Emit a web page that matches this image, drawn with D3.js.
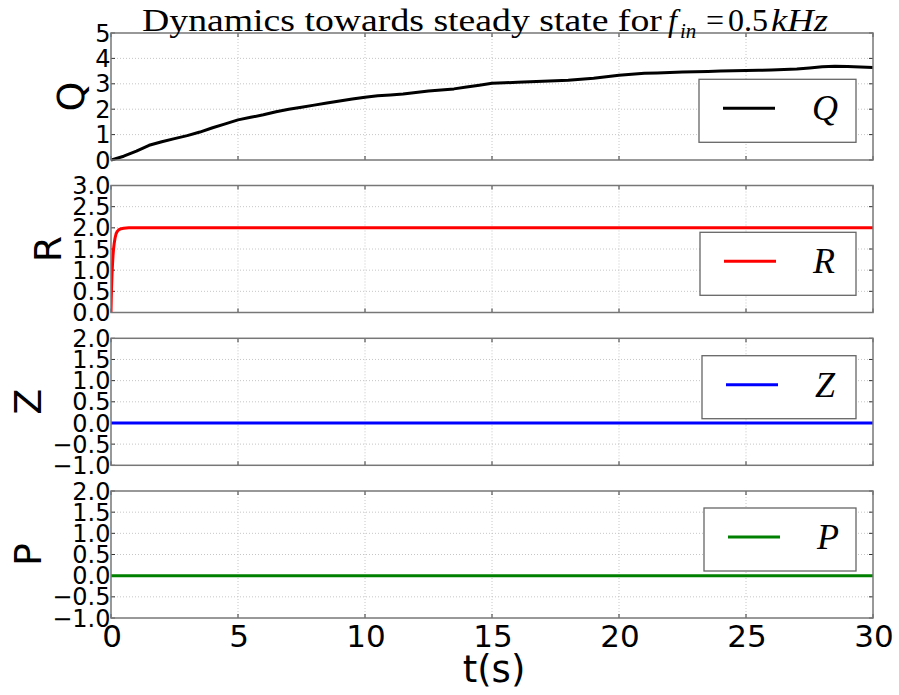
<!DOCTYPE html>
<html>
<head>
<meta charset="utf-8">
<script src="https://cdn.jsdelivr.net/npm/d3@7"></script>
<style>
  html, body { margin: 0; padding: 0; background: #fff; }
  svg { display: block; }
</style>
</head>
<body>
<svg id="chart" width="899" height="695"></svg>
<script>
// ---------------- data ----------------
const xTicks = [0, 5, 10, 15, 20, 25, 30];
const xTickLabels = ["0", "5", "10", "15", "20", "25", "30"];

const tQ = [0, 0.5, 1, 1.5, 2, 2.5, 3, 3.5, 4, 4.5, 5, 5.5, 6, 6.5, 7, 7.5, 8, 8.5, 9, 9.5,
  10, 10.5, 11, 11.5, 12, 12.5, 13, 13.5, 14, 14.5, 15, 15.5, 16, 16.5, 17, 17.5, 18, 18.5, 19, 19.5,
  20, 20.5, 21, 21.5, 22, 22.5, 23, 23.5, 24, 24.5, 25, 25.5, 26, 26.5, 27, 27.5, 28, 28.5, 29, 29.5, 30];
const qValues = [0, 0.15, 0.35, 0.58, 0.72, 0.84, 0.96, 1.1, 1.27, 1.42, 1.58, 1.68, 1.78, 1.9, 2.0, 2.08, 2.16, 2.24, 2.32, 2.4,
  2.47, 2.53, 2.56, 2.6, 2.66, 2.72, 2.76, 2.8, 2.87, 2.94, 3.02, 3.04, 3.06, 3.08, 3.1, 3.12, 3.14, 3.18, 3.22, 3.28,
  3.34, 3.38, 3.42, 3.43, 3.44, 3.46, 3.47, 3.48, 3.5, 3.51, 3.52, 3.53, 3.54, 3.56, 3.58, 3.62, 3.67, 3.69, 3.68, 3.66, 3.64];

const tR = [0, 0.01, 0.02, 0.04, 0.06, 0.08, 0.1, 0.13, 0.16, 0.2, 0.25, 0.3, 0.4, 0.5, 0.7, 30];
const rValues = [0, 0.3, 0.55, 0.9, 1.15, 1.35, 1.5, 1.65, 1.76, 1.86, 1.92, 1.95, 1.98, 1.99, 2.0, 2.0];

const tZ = [0, 30];
const zValues = [0, 0];
const tP = [0, 30];
const pValues = [0, 0];

const qTicks = [0, 1, 2, 3, 4, 5];
const rTicks = [0, 0.5, 1, 1.5, 2, 2.5, 3];
const zTicks = [-1, -0.5, 0, 0.5, 1, 1.5, 2];
const pTicks = [-1, -0.5, 0, 0.5, 1, 1.5, 2];

const seriesNames = ["Q", "R", "Z", "P"];
const seriesColors = ["#000000", "#ff0000", "#0000ff", "#008000"];

// ---------------- layout ----------------
const svg = d3.select("#chart");
const left = 111, right = 873;
const panelTops = [33, 185.5, 338.3, 491];
const panelH = 127;
const legendBoxes = [[699, 79.3, 157, 63], [700, 232.3, 156, 63], [702, 355.7, 154, 63], [704, 508, 152, 63]];

const x = d3.scaleLinear().domain([0, 30]).range([left, right]);

const minus = s => s.replace("-", "\u2212");
const panels = [
  { t: tQ, v: qValues, domain: [0, 5], ticks: qTicks, fmt: d3.format("d") },
  { t: tR, v: rValues, domain: [0, 3], ticks: rTicks, fmt: d => d3.format(".1f")(d) },
  { t: tZ, v: zValues, domain: [-1, 2], ticks: zTicks, fmt: d => minus(d3.format(".1f")(d)) },
  { t: tP, v: pValues, domain: [-1, 2], ticks: pTicks, fmt: d => minus(d3.format(".1f")(d)) }
];

const tickFont = "DejaVu Sans";
const serif = "Liberation Serif, DejaVu Serif, serif";

panels.forEach((p, i) => {
  const top = panelTops[i], bot = top + panelH;
  const y = d3.scaleLinear().domain(p.domain).range([bot, top]);
  const g = svg.append("g");

  const cid = "clip" + i;
  svg.append("clipPath").attr("id", cid).append("rect")
    .attr("x", left).attr("y", top - 2).attr("width", right - left).attr("height", panelH + 4);

  // grid
  g.selectAll(".vg").data(xTicks.slice(1, -1)).enter().append("line")
    .attr("x1", d => x(d)).attr("x2", d => x(d)).attr("y1", top).attr("y2", bot)
    .attr("stroke", "#b8b8b8").attr("stroke-width", 0.8).attr("stroke-dasharray", "1,2");
  g.selectAll(".hg").data(p.ticks.slice(1, -1)).enter().append("line")
    .attr("x1", left).attr("x2", right).attr("y1", d => y(d)).attr("y2", d => y(d))
    .attr("stroke", "#b8b8b8").attr("stroke-width", 0.8).attr("stroke-dasharray", "1,2");

  // ticks (inward)
  const tickLen = 4;
  g.selectAll(".xtb").data(xTicks).enter().append("line")
    .attr("x1", d => x(d)).attr("x2", d => x(d)).attr("y1", bot).attr("y2", bot - tickLen)
    .attr("stroke", "#333").attr("stroke-width", 1);
  g.selectAll(".xtt").data(xTicks).enter().append("line")
    .attr("x1", d => x(d)).attr("x2", d => x(d)).attr("y1", top).attr("y2", top + tickLen)
    .attr("stroke", "#333").attr("stroke-width", 1);
  g.selectAll(".ytl").data(p.ticks).enter().append("line")
    .attr("x1", left).attr("x2", left + tickLen).attr("y1", d => y(d)).attr("y2", d => y(d))
    .attr("stroke", "#333").attr("stroke-width", 1);
  g.selectAll(".ytr").data(p.ticks).enter().append("line")
    .attr("x1", right).attr("x2", right - tickLen).attr("y1", d => y(d)).attr("y2", d => y(d))
    .attr("stroke", "#333").attr("stroke-width", 1);

  // data line
  const line = d3.line().x(d => x(d[0])).y(d => y(d[1]));
  const pts = p.t.map((t, k) => [t, p.v[k]]);
  g.append("path").datum(pts)
    .attr("d", line)
    .attr("fill", "none")
    .attr("stroke", seriesColors[i])
    .attr("stroke-width", 3)
    .attr("stroke-linejoin", "round")
    .attr("clip-path", `url(#${cid})`);

  // frame
  g.append("rect").attr("x", left).attr("y", top).attr("width", right - left).attr("height", panelH)
    .attr("fill", "none").attr("stroke", "#777").attr("stroke-width", 1.5);

  // y tick labels
  const labs = g.selectAll(".ylab").data(p.ticks).enter().append("text")
    .attr("x", left - 0.5).attr("y", d => y(d))
    .attr("dy", "0.36em")
    .attr("text-anchor", "end")
    .attr("font-family", tickFont).attr("font-size", 24).attr("fill", "#000")
    .text(d => p.fmt(d));
  let maxW = 0;
  labs.each(function () { maxW = Math.max(maxW, this.getComputedTextLength()); });

  // y axis label (baseline placed left of the widest tick label)
  g.append("text")
    .attr("transform", `translate(${left - maxW - 12},${top + panelH / 2}) rotate(-90)`)
    .attr("text-anchor", "middle")
    .attr("font-family", tickFont).attr("font-size", 38).attr("fill", "#000")
    .text(seriesNames[i]);

  // legend
  const [bx, by, bw, bh] = legendBoxes[i];
  g.append("rect").attr("x", bx).attr("y", by).attr("width", bw).attr("height", bh)
    .attr("fill", "#fff").attr("stroke", "#666").attr("stroke-width", 1.3);
  g.append("line").attr("x1", bx + 24).attr("x2", bx + 76).attr("y1", by + 29).attr("y2", by + 29)
    .attr("stroke", seriesColors[i]).attr("stroke-width", 3);
  g.append("text").attr("x", bx + 113).attr("y", by + 41)
    .attr("font-family", serif).attr("font-style", "italic")
    .attr("font-size", 36).attr("fill", "#000")
    .text(seriesNames[i]);
});

// x tick labels (bottom panel)
const lastBot = panelTops[3] + panelH;
svg.selectAll(".xlab").data(xTicks).enter().append("text")
  .attr("x", d => x(d) + 1).attr("y", lastBot + 29)
  .attr("text-anchor", "middle")
  .attr("font-family", tickFont).attr("font-size", 31).attr("fill", "#000")
  .text((d, k) => xTickLabels[k]);

// x axis label
svg.append("text")
  .attr("x", (left + right) / 2 + 2).attr("y", lastBot + 64)
  .attr("text-anchor", "middle")
  .attr("font-family", tickFont).attr("font-size", 37).attr("fill", "#000")
  .text("t(s)");

// title
function fitText(sel, x0, x1, baseY) {
  const w = sel.node().getComputedTextLength();
  const s = (x1 - x0) / w;
  sel.attr("x", 0).attr("y", 0).attr("transform", `translate(${x0},${baseY}) scale(${s},1)`);
}
const t1 = svg.append("text").attr("font-family", serif).attr("font-size", 32).attr("fill", "#000")
  .text("Dynamics towards steady state for");
fitText(t1, 142, 662, 31);
svg.append("text").attr("x", 668).attr("y", 31).attr("font-family", serif).attr("font-size", 32)
  .attr("font-style", "italic").text("f");
svg.append("text").attr("x", 680).attr("y", 38).attr("font-family", serif).attr("font-size", 21)
  .attr("font-style", "italic").text("in");
svg.append("text").attr("x", 706).attr("y", 31).attr("font-family", serif).attr("font-size", 32).text("=");
svg.append("text").attr("x", 728).attr("y", 31).attr("font-family", serif).attr("font-size", 32).text("0.5");
const tk = svg.append("text").attr("font-family", serif).attr("font-size", 32).attr("font-style", "italic").text("kHz");
fitText(tk, 771, 828, 31);
</script>
</body>
</html>
